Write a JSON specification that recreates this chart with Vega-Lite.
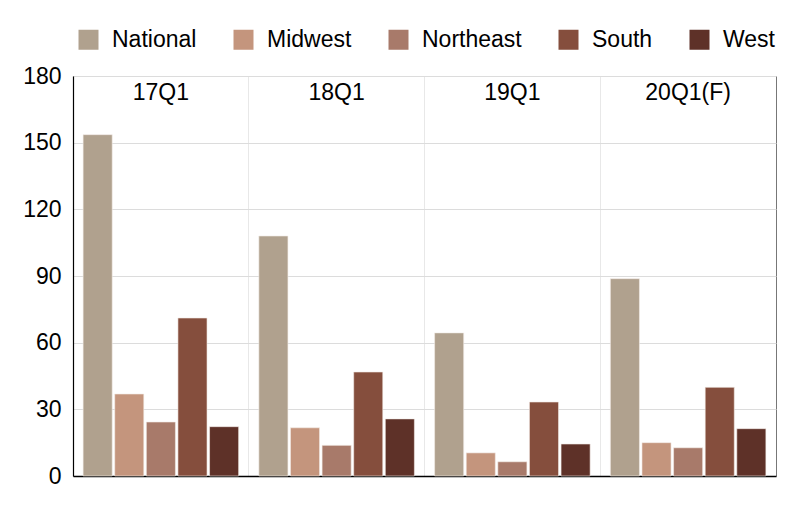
{
  "$schema": "https://vega.github.io/schema/vega-lite/v6.json",
  "width": 703,
  "height": 400,
  "autosize": {"type": "none"},
  "padding": {"left": 73, "top": 76, "right": 24, "bottom": 37},
  "background": "white",
  "config": {
    "font": "Liberation Sans",
    "view": {"stroke": "#777", "strokeWidth": 1},
    "axis": {"labelFont": "Liberation Sans"}
  },
  "layer": [
    {
      "data": {
        "values": [
          {"quarter": "17Q1", "region": "National", "value": 153.6},
          {"quarter": "17Q1", "region": "Midwest", "value": 36.9},
          {"quarter": "17Q1", "region": "Northeast", "value": 24.3},
          {"quarter": "17Q1", "region": "South", "value": 71.1},
          {"quarter": "17Q1", "region": "West", "value": 22.2},
          {"quarter": "18Q1", "region": "National", "value": 108.0},
          {"quarter": "18Q1", "region": "Midwest", "value": 21.7},
          {"quarter": "18Q1", "region": "Northeast", "value": 13.8},
          {"quarter": "18Q1", "region": "South", "value": 46.8},
          {"quarter": "18Q1", "region": "West", "value": 25.7},
          {"quarter": "19Q1", "region": "National", "value": 64.4},
          {"quarter": "19Q1", "region": "Midwest", "value": 10.4},
          {"quarter": "19Q1", "region": "Northeast", "value": 6.4},
          {"quarter": "19Q1", "region": "South", "value": 33.3},
          {"quarter": "19Q1", "region": "West", "value": 14.4},
          {"quarter": "20Q1(F)", "region": "National", "value": 88.8},
          {"quarter": "20Q1(F)", "region": "Midwest", "value": 15.0},
          {"quarter": "20Q1(F)", "region": "Northeast", "value": 12.7},
          {"quarter": "20Q1(F)", "region": "South", "value": 39.9},
          {"quarter": "20Q1(F)", "region": "West", "value": 21.3}
        ]
      },
      "mark": {"type": "bar", "stroke": "#f4ece8", "strokeWidth": 0.6},
      "encoding": {
        "x": {
          "field": "quarter", "type": "nominal", "sort": null,
          "scale": {"paddingInner": 0, "paddingOuter": 0},
          "axis": {"title": null, "labels": false, "ticks": false, "domainColor": "#000", "domainWidth": 1.5, "grid": true, "bandPosition": 0, "gridColor": "#e8e8e8", "gridWidth": 1}
        },
        "xOffset": {
          "field": "region", "type": "nominal", "sort": ["National", "Midwest", "Northeast", "South", "West"],
          "scale": {"paddingInner": 0.08, "paddingOuter": 0.32}
        },
        "y": {
          "field": "value", "type": "quantitative",
          "scale": {"domain": [0, 180], "nice": false},
          "axis": {"title": null, "values": [0, 30, 60, 90, 120, 150, 180], "ticks": false, "labelPadding": 12, "labelFontSize": 23, "labelColor": "#000", "domainColor": "#000", "domainWidth": 1.2, "gridColor": "#dcdcdc", "gridWidth": 1}
        },
        "color": {
          "field": "region", "type": "nominal",
          "sort": ["National", "Midwest", "Northeast", "South", "West"],
          "scale": {"domain": ["National", "Midwest", "Northeast", "South", "West"], "range": ["#B0A18E", "#C4957D", "#A87A6A", "#854E3D", "#5E3128"]},
          "legend": {"title": null, "orient": "none", "direction": "horizontal", "legendX": 4, "legendY": -48, "symbolType": "square", "symbolSize": 400, "symbolStrokeWidth": 0, "labelFontSize": 23, "labelColor": "#000", "columnPadding": 35, "labelOffset": 12}
        }
      }
    },
    {
      "data": {"values": [{"quarter": "17Q1"}, {"quarter": "18Q1"}, {"quarter": "19Q1"}, {"quarter": "20Q1(F)"}]},
      "mark": {"type": "text", "fontSize": 23, "color": "#000", "baseline": "middle", "align": "center"},
      "encoding": {
        "x": {"field": "quarter", "type": "nominal", "sort": null},
        "y": {"datum": 172.5, "type": "quantitative"},
        "text": {"field": "quarter"}
      }
    }
  ]
}
